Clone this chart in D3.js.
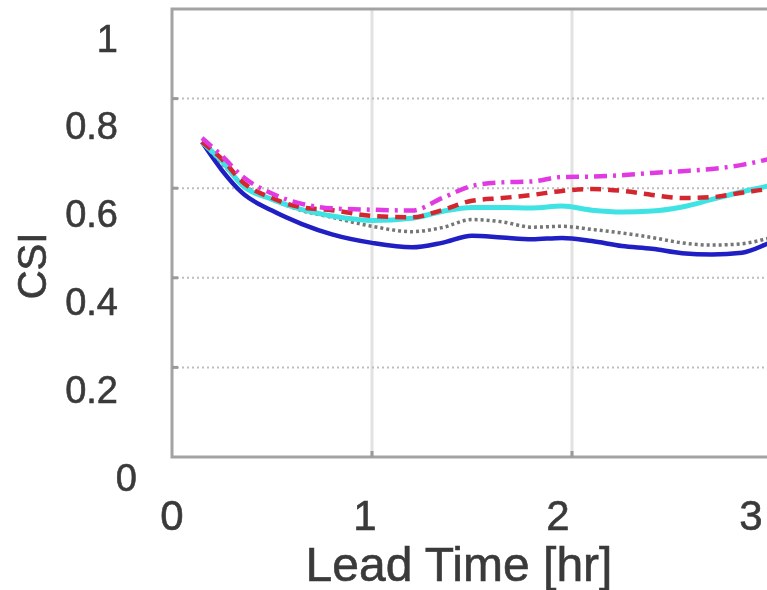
<!DOCTYPE html>
<meta charset="utf-8">
<head>
  <script type="text/javascript" src="https://cdn.jsdelivr.net/npm/d3@7"></script>
  <style>
    body { margin: 0; background: #fff; }
    svg { display: block; filter: blur(0.6px); }
    text { font-family: "Liberation Sans", Arial, sans-serif; fill: #3a3a3a; stroke: #3a3a3a; stroke-width: 0.6px; }
  </style>
  <title>CSI vs Lead Time</title>
</head>
<body>
<div id="chart"></div>
<script>
  // lead time (hr) shared by all curves
  var leadTime = [0.15, 0.25, 0.35, 0.5, 0.65, 0.8, 1.0, 1.2, 1.35, 1.5, 1.65, 1.8, 1.95, 2.1, 2.25, 2.4, 2.55, 2.7, 2.85, 3.0, 3.1];

  // CSI values
  var csiBlue    = [0.703, 0.64, 0.59, 0.55, 0.52, 0.497, 0.478, 0.468, 0.478, 0.494, 0.49, 0.486, 0.489, 0.482, 0.471, 0.465, 0.455, 0.452, 0.456, 0.48, 0.495];
  var csiGrey    = [0.703, 0.655, 0.61, 0.575, 0.55, 0.535, 0.515, 0.503, 0.512, 0.53, 0.525, 0.513, 0.515, 0.508, 0.5, 0.49, 0.478, 0.473, 0.476, 0.49, 0.5];
  var csiCyan    = [0.703, 0.66, 0.607, 0.575, 0.552, 0.538, 0.528, 0.533, 0.548, 0.557, 0.557, 0.556, 0.56, 0.551, 0.547, 0.549, 0.558, 0.575, 0.592, 0.607, 0.62];
  var csiRed     = [0.703, 0.665, 0.615, 0.578, 0.557, 0.551, 0.538, 0.535, 0.551, 0.572, 0.578, 0.585, 0.594, 0.598, 0.594, 0.585, 0.578, 0.58, 0.59, 0.6, 0.61];
  var csiMagenta = [0.712, 0.672, 0.627, 0.588, 0.565, 0.555, 0.552, 0.55, 0.578, 0.605, 0.613, 0.615, 0.625, 0.626, 0.629, 0.634, 0.638, 0.643, 0.652, 0.667, 0.68];

  var xTicks = [0, 1, 2, 3];
  var yTicks = [0, 0.2, 0.4, 0.6, 0.8, 1];
  var xTickLabels = ["0", "1", "2", "3"];
  var yTickLabels = ["0", "0.2", "0.4", "0.6", "0.8", "1"];

  const width = 767, height = 590;

  var svg = d3.select("#chart").append("svg")
      .attr("width", width).attr("height", height);

  // plot scales (right edge of the axes box falls outside the picture)
  var x = d3.scaleLinear().domain([0, 3.5]).range([172, 872]);
  var y = d3.scaleLinear().domain([0, 1]).range([457, 9]);
  // tick labels sit a bit off the grid in the source picture
  var xLab = d3.scaleLinear().domain([0, 3]).range([172, 751]);
  var yLab = d3.scaleLinear().domain([0, 1]).range([477, 38]);

  svg.append("clipPath").attr("id", "plotclip")
    .append("rect").attr("x", x(0)).attr("y", y(1)).attr("width", x(3.5) - x(0)).attr("height", y(0) - y(1));

  // grid
  svg.append("g").selectAll("line")
    .data([1, 2, 3]).enter().append("line")
    .attr("x1", d => x(d)).attr("x2", d => x(d))
    .attr("y1", y(1)).attr("y2", y(0))
    .attr("stroke", "#e2e2e2").attr("stroke-width", 3);

  svg.append("g").selectAll("line")
    .data([0.2, 0.4, 0.6, 0.8]).enter().append("line")
    .attr("x1", x(0)).attr("x2", width)
    .attr("y1", d => y(d)).attr("y2", d => y(d))
    .attr("stroke", "#bdbdbd").attr("stroke-width", 2)
    .attr("stroke-dasharray", "2,3");

  // series
  var series = [
    {vals: csiBlue,    color: "#1f1fc4", w: 4.5, dash: null},
    {vals: csiGrey,    color: "#767676", w: 3.5, dash: "3,3"},
    {vals: csiCyan,    color: "#3fe3e3", w: 5,   dash: null},
    {vals: csiRed,     color: "#d4262e", w: 4.5, dash: "11,7"},
    {vals: csiMagenta, color: "#e23ae2", w: 4.5, dash: "13,6,3,6"}
  ];

  var line = d3.line()
    .x(d => x(d[0])).y(d => y(d[1]))
    .curve(d3.curveMonotoneX);

  svg.append("g").attr("clip-path", "url(#plotclip)")
    .selectAll("path").data(series).enter().append("path")
    .attr("d", s => line(leadTime.map((t, i) => [t, s.vals[i]])))
    .attr("fill", "none")
    .attr("stroke", s => s.color)
    .attr("stroke-width", s => s.w)
    .attr("stroke-dasharray", s => s.dash)
    .attr("stroke-linejoin", "round");

  // axes box (left, top, bottom)
  svg.append("path")
    .attr("d", "M" + width + "," + y(1) + "H" + x(0) + "V" + y(0) + "H" + width)
    .attr("fill", "none").attr("stroke", "#a3a3a3").attr("stroke-width", 3);

  // small inward ticks
  svg.append("g").selectAll("line").data([0.2, 0.4, 0.6, 0.8]).enter().append("line")
    .attr("x1", x(0)).attr("x2", x(0) + 6).attr("y1", d => y(d)).attr("y2", d => y(d))
    .attr("stroke", "#9a9a9a").attr("stroke-width", 3);
  svg.append("g").selectAll("line").data([1, 2]).enter().append("line")
    .attr("x1", d => x(d)).attr("x2", d => x(d)).attr("y1", y(0)).attr("y2", y(0) - 6)
    .attr("stroke", "#9a9a9a").attr("stroke-width", 3);

  // tick labels
  svg.append("g").selectAll("text").data(xTicks).enter().append("text")
    .attr("x", d => xLab(d)).attr("y", 530)
    .attr("text-anchor", "middle")
    .style("font-size", "42px")
    .text((d, i) => xTickLabels[i]);

  svg.append("g").selectAll("text").data(yTicks).enter().append("text")
    .attr("x", d => d === 0 ? 137 : 118)
    .attr("y", d => yLab(d))
    .attr("dy", "0.36em")
    .attr("text-anchor", "end")
    .style("font-size", "38px")
    .text((d, i) => yTickLabels[i]);

  // axis titles
  svg.append("text")
    .attr("x", 459).attr("y", 581)
    .attr("text-anchor", "middle")
    .style("font-size", "48px")
    .text("Lead Time [hr]");

  svg.append("text")
    .attr("transform", "translate(46,266) rotate(-90)")
    .attr("text-anchor", "middle")
    .style("font-size", "40px")
    .text("CSI");
</script>
</body>
</html>
